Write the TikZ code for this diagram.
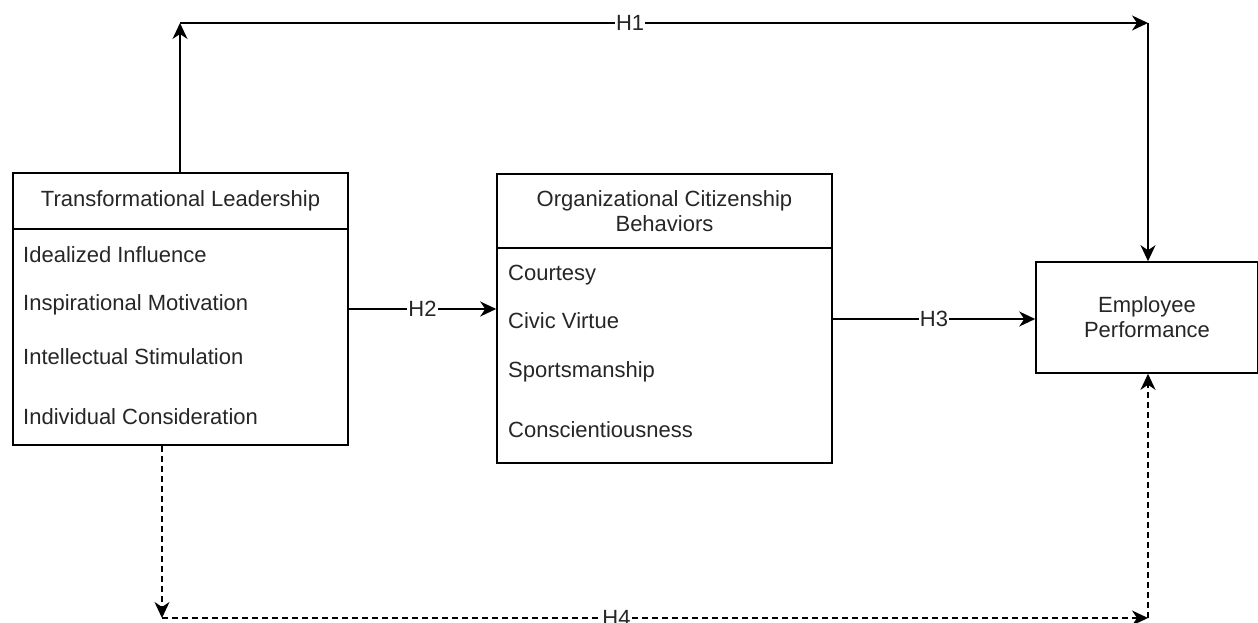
\documentclass[tikz,border=0pt]{standalone}
\usepackage{fontspec}
\setmainfont{Liberation Sans}
\usetikzlibrary{arrows.meta}
\begin{document}
\begin{tikzpicture}[x=1pt,y=-1pt,
  box/.style={draw, line width=1.6pt, rectangle, inner sep=0pt, font=\fontsize{22}{25}\selectfont, align=center, text=black!85},
  conn/.style={line width=1.6pt, -{Stealth[length=16pt,width=15pt,inset=5pt]}},
  dconn/.style={conn, dash pattern=on 6pt off 4pt},
  txt/.style={font=\fontsize{22}{25}\selectfont, inner sep=0pt, anchor=base west, text=black!85},
  lbl/.style={font=\fontsize{22}{25}\selectfont, fill=white, inner sep=1pt, text=black!85}]
\useasboundingbox (0,0) rectangle (1258,623);
% boxes
\node[box, minimum width=335pt, minimum height=56pt] (tlhead) at (180.5,201) {Transformational Leadership};
\node[box, minimum width=335pt, minimum height=216pt] (tlbody) at (180.5,337) {};
\node[box, minimum width=335pt, minimum height=74pt] (ocbhead) at (664.5,211) {Organizational Citizenship\\Behaviors};
\node[box, minimum width=335pt, minimum height=215pt] (ocbbody) at (664.5,355.5) {};
\node[box, minimum width=222pt, minimum height=111pt] (ep) at (1147,317.5) {Employee\\Performance};
% items
\node[txt] (ii) at (23,262) {Idealized Influence};
\node[txt] (im) at (23,310) {Inspirational Motivation};
\node[txt] (is) at (23,364) {Intellectual Stimulation};
\node[txt] (ic) at (23,424) {Individual Consideration};
\node[txt] (cc) at (508,280) {Courtesy};
\node[txt] (cv) at (508,328) {Civic Virtue};
\node[txt] (sp) at (508,377) {Sportsmanship};
\node[txt] (cs) at (508,437) {Conscientiousness};
% connectors
\coordinate (a1) at (180,23);
\coordinate (a2) at (1148,23);
\draw[conn] (tlhead.north -| a1) -- (a1);
\draw[conn] (a1) -- node[lbl, pos=0.465] {H1} (a2);
\draw[conn] (a2) -- (ep.north -| a2);
\coordinate (h2) at (0,309);
\draw[conn] (tlbody.east |- h2) -- node[lbl] {H2} (ocbbody.west |- h2);
\coordinate (h3) at (0,319);
\draw[conn] (ocbbody.east |- h3) -- node[lbl] {H3} (ep.west |- h3);
\coordinate (d1) at (162,618);
\coordinate (d2) at (1148,618);
\draw[dconn] (tlbody.south -| d1) -- (d1);
\draw[dconn] (d1) -- node[lbl, pos=0.461] {H4} (d2);
\draw[dconn] (d2) -- (ep.south -| d2);
\end{tikzpicture}
\end{document}
